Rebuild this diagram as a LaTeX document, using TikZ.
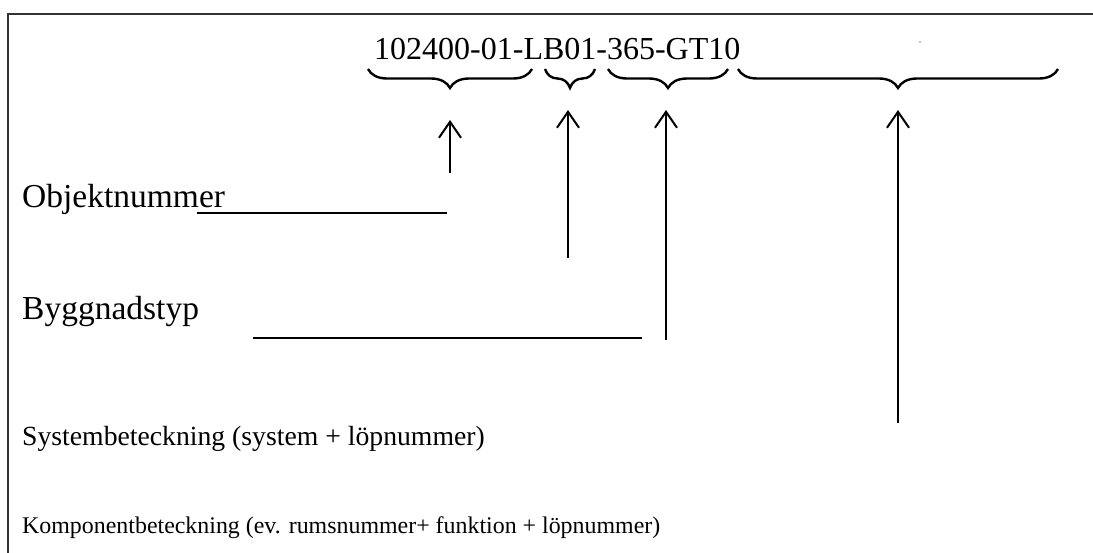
\documentclass[tikz,border=0pt]{standalone}
\usepackage{fontspec}
\setmainfont{Liberation Serif}
\usetikzlibrary{arrows.meta,decorations.pathreplacing}
\begin{document}
\begin{tikzpicture}[x=1pt,y=-1pt,
  lbl/.style={anchor=base west,inner sep=0pt},
  brc/.style={line width=2.4pt,decorate,decoration={brace,mirror,amplitude=19pt}},
  arr/.style={line width=2pt,-{Straight Barb[length=16pt,width=22pt,line width=2pt]}},
  uline/.style={line width=2.6pt}]
\useasboundingbox (0,0) rectangle (1093,552);
\draw[line width=1.6pt,draw=black!80] (8,600) -- (8,14) -- (1100,14);
\node[lbl,font=\fontsize{32}{38}\selectfont] (code) at (374,59) {102400-01-LB01-365-GT10};
\fill (920,42) circle (0.7pt);
% braces
\coordinate (b1l) at (368,69); \coordinate (b1r) at (532,69);
\coordinate (b2l) at (545,69); \coordinate (b2r) at (595,69);
\coordinate (b3l) at (608,69); \coordinate (b3r) at (728,69);
\coordinate (b4l) at (738,69); \coordinate (b4r) at (1058,69);
\draw[brc] (b1l) -- (b1r);
\draw[brc] (b2l) -- (b2r);
\draw[brc] (b3l) -- (b3r);
\draw[brc] (b4l) -- (b4r);
% arrows
\coordinate (a1s) at (450,173); \coordinate (a1e) at (450,120);
\coordinate (a2s) at (568,258); \coordinate (a2e) at (568,110);
\coordinate (a3s) at (666,340); \coordinate (a3e) at (666,110);
\coordinate (a4s) at (898,423); \coordinate (a4e) at (898,110);
\draw[arr] (a1s) -- (a1e);
\draw[arr] (a2s) -- (a2e);
\draw[arr] (a3s) -- (a3e);
\draw[arr] (a4s) -- (a4e);
% labels
\node[lbl,font=\fontsize{33.5}{40}\selectfont] (obj) at (22,207) {Objektnummer};
\node[lbl,font=\fontsize{33.5}{40}\selectfont] (bygg) at (22,319) {Byggnadstyp};
\node[lbl,font=\fontsize{27.7}{33}\selectfont] (sys) at (22,445) {Systembeteckning (system + löpnummer)};
\node[lbl,font=\fontsize{23.9}{29}\selectfont] (komp) at (22,533) {Komponentbeteckning (ev. rumsnummer+ funktion + löpnummer)};
% underlines
\coordinate (u1l) at (197,213); \coordinate (u1r) at (447,213);
\coordinate (u2l) at (253,338); \coordinate (u2r) at (642,338);
\draw[uline] (u1l) -- (u1r);
\draw[uline] (u2l) -- (u2r);
\end{tikzpicture}
\end{document}
